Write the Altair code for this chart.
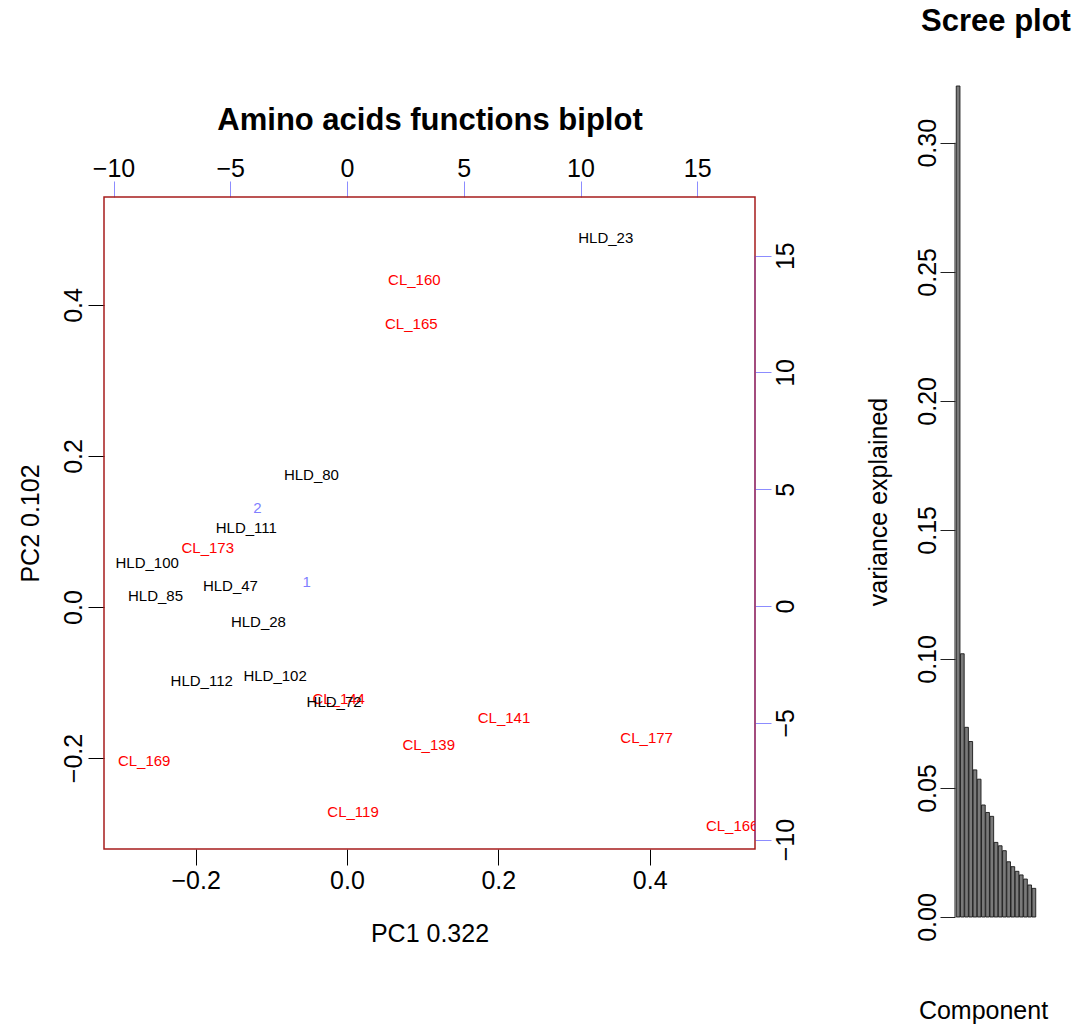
import altair as alt
import pandas as pd

FONT = "Liberation Sans"

# ---- biplot data (sample scores) ----
samples = ["HLD_23", "CL_160", "CL_165", "HLD_80", "HLD_111", "CL_173", "HLD_100",
           "HLD_47", "HLD_85", "HLD_28", "HLD_112", "HLD_102", "CL_144", "HLD_72",
           "CL_141", "CL_139", "CL_177", "CL_169", "CL_119", "CL_166"]
pc1 = [0.342, 0.089, 0.085, -0.047, -0.133, -0.184, -0.264,
       -0.154, -0.253, -0.117, -0.192, -0.095, -0.011, -0.017,
       0.2075, 0.108, 0.396, -0.268, 0.008, 0.509]
pc2 = [0.489, 0.433, 0.375, 0.175, 0.104, 0.078, 0.058,
       0.028, 0.014, -0.020, -0.098, -0.092, -0.122, -0.126,
       -0.147, -0.183, -0.1735, -0.204, -0.271, -0.290]
groups = ["CL" if s.startswith("CL") else "HLD" for s in samples]

# ---- loadings (variables) ----
var_names = ["1", "2"]
load_x = [-1.73, -3.84]
load_y = [1.04, 4.18]

# ---- scree data ----
components = list(range(1, 20))
variance = [0.322, 0.102, 0.0735, 0.068, 0.057, 0.0534, 0.0434, 0.0405, 0.039,
            0.0289, 0.0276, 0.0257, 0.0214, 0.0195, 0.0177, 0.0163, 0.0147,
            0.0124, 0.0111]

# ---- axis ranges / ticks ----
pc1_range = [-0.3211, 0.5392]
pc2_range = [-0.3205, 0.5430]
load_x_range = [-10.407, 17.473]
load_y_range = [-10.40, 17.51]
bottom_ticks = [-0.2, 0.0, 0.2, 0.4]
left_ticks = [-0.2, 0.0, 0.2, 0.4]
top_ticks = [-10, -5, 0, 5, 10, 15]
right_ticks = [-10, -5, 0, 5, 10, 15]
scree_ticks = [0.0, 0.05, 0.10, 0.15, 0.20, 0.25, 0.30]

# layout: the biplot frame sits this many px below the top of its (shared) view
BOX_H = 652
BOX_W = 651
GAP = 111
pc2_top = pc2_range[1] + GAP * (pc2_range[1] - pc2_range[0]) / BOX_H
load_top = load_y_range[1] + GAP * (load_y_range[1] - load_y_range[0]) / BOX_H

# right axis line (loading ticks -10..15 expressed in PC2 units)
def load_to_pc2(v):
    return pc2_range[0] + (v - load_y_range[0]) / (load_y_range[1] - load_y_range[0]) * (pc2_range[1] - pc2_range[0])

scores_df = pd.DataFrame({"name": samples, "pc1": pc1, "pc2": pc2, "group": groups})
load_df = pd.DataFrame({"name": var_names, "lx": load_x, "ly": load_y})
box_df = pd.DataFrame({"x0": [pc1_range[0]], "x1": [pc1_range[1]],
                       "y0": [pc2_range[0]], "y1": [pc2_range[1]]})
rline_df = pd.DataFrame({"x": [pc1_range[1]], "y0": [load_to_pc2(-10)], "y1": [load_to_pc2(15)]})
scree_df = pd.DataFrame({"comp": components, "var": variance})
scree_axis_df = pd.DataFrame({"y0": [0.0], "y1": [0.30]})

LBL = 25
common_axis = dict(labelFontSize=LBL, titleFontSize=LBL, titleFontWeight="normal",
                   labelColor="black", titleColor="black", labelFont=FONT, titleFont=FONT,
                   grid=False, tickWidth=1, labelOverlap=False, labelFlush=False)

xs = alt.Scale(domain=pc1_range, nice=False, zero=False)
ys = alt.Scale(domain=[pc2_range[0], pc2_top], nice=False, zero=False)

scores = alt.Chart(scores_df).mark_text(fontSize=15, font=FONT, clip=True).encode(
    x=alt.X("pc1:Q", scale=xs, title="PC1 0.322",
            axis=alt.Axis(orient="bottom", values=bottom_ticks, format=".1f",
                          tickColor="black", labelPadding=3,
                          titlePadding=28, domain=False, tickSize=16, **common_axis)),
    y=alt.Y("pc2:Q", scale=ys, title="PC2 0.102",
            axis=alt.Axis(orient="left", values=left_ticks, format=".1f",
                          tickColor="black", labelAngle=-90,
                          labelAlign="center", labelBaseline="bottom", labelPadding=2,
                          titlePadding=18, titleY=GAP + BOX_H / 2, domain=False,
                          tickSize=16, **common_axis)),
    text="name:N",
    color=alt.Color("group:N", scale=alt.Scale(domain=["CL", "HLD"],
                                               range=["#ff0000", "#000000"]), legend=None),
)

box = alt.Chart(box_df).mark_rect(fillOpacity=0, stroke="#a61c1c", strokeWidth=1.5).encode(
    x=alt.X("x0:Q", scale=xs, title="PC1 0.322"), x2="x1:Q",
    y=alt.Y("y0:Q", scale=ys, title="PC2 0.102"), y2="y1:Q",
)
right_line = alt.Chart(rline_df).mark_rule(color="#9b4a8c", strokeWidth=1.5).encode(
    x=alt.X("x:Q", scale=xs, title="PC1 0.322"),
    y=alt.Y("y0:Q", scale=ys, title="PC2 0.102"), y2="y1:Q",
)

score_layer = alt.layer(box, right_line, scores)

loadings = alt.Chart(load_df).mark_text(fontSize=15, font=FONT, color="#8080ff", clip=True).encode(
    x=alt.X("lx:Q",
            scale=alt.Scale(domain=load_x_range, nice=False, zero=False),
            axis=alt.Axis(orient="top", values=top_ticks, format="d",
                          title="Amino acids functions biplot", titleFontSize=31,
                          titleFontWeight="bold", titleColor="black", titleFont=FONT,
                          titlePadding=20, offset=-GAP,
                          tickColor="#8c8cff", labelPadding=0, domain=False, tickSize=16,
                          labelFontSize=LBL, labelColor="black", labelFont=FONT,
                          grid=False, tickWidth=1, labelOverlap=False, labelFlush=False)),
    y=alt.Y("ly:Q",
            scale=alt.Scale(domain=[load_y_range[0], load_top], nice=False, zero=False),
            axis=alt.Axis(orient="right", values=right_ticks, format="d", title=None,
                          tickColor="#8c8cff", labelAngle=-90, labelAlign="center",
                          labelBaseline="top", labelPadding=2, domain=False,
                          tickSize=16, **common_axis)),
    text="name:N",
)

biplot = alt.layer(score_layer, loadings).resolve_scale(
    x="independent", y="independent"
).properties(width=BOX_W, height=BOX_H + GAP)

bars = alt.Chart(scree_df).mark_bar(color="#7a7a7a", stroke="#1a1a1a", strokeWidth=0.9).encode(
    x=alt.X("comp:O", scale=alt.Scale(paddingInner=0.12, paddingOuter=0.3),
            axis=alt.Axis(labels=False, ticks=False, domain=False, title="Component",
                          titleFontSize=LBL, titleFontWeight="normal", titleColor="black",
                          titleFont=FONT, titlePadding=81, titleX=28)),
    y=alt.Y("var:Q", title="variance explained",
            scale=alt.Scale(domain=[0, 0.322], nice=False, zero=True),
            axis=alt.Axis(values=scree_ticks, format=".2f", labelAngle=-90,
                          labelAlign="center", labelBaseline="bottom", labelPadding=0,
                          tickColor="#222222", titlePadding=24, domain=False, tickSize=15,
                          **common_axis)),
)
scree_axis_line = alt.Chart(scree_axis_df).mark_rule(color="#222222", strokeWidth=1).encode(
    x=alt.value(0),
    y=alt.Y("y0:Q", title="variance explained"),
    y2="y1:Q",
)

scree = alt.layer(bars, scree_axis_line).properties(
    width=82, height=831,
    title=alt.TitleParams(text="Scree plot", fontSize=31, fontWeight="bold", font=FONT,
                          color="black", offset=48, anchor="middle", frame="group"),
)

chart = alt.hconcat(biplot, scree, spacing=66).properties(
    padding={"left": 17, "top": 5, "right": 3, "bottom": 3},
).configure(font=FONT).configure_view(
    stroke="transparent"
)

chart.save("out.html", embed_options={"renderer": "svg", "actions": False})
